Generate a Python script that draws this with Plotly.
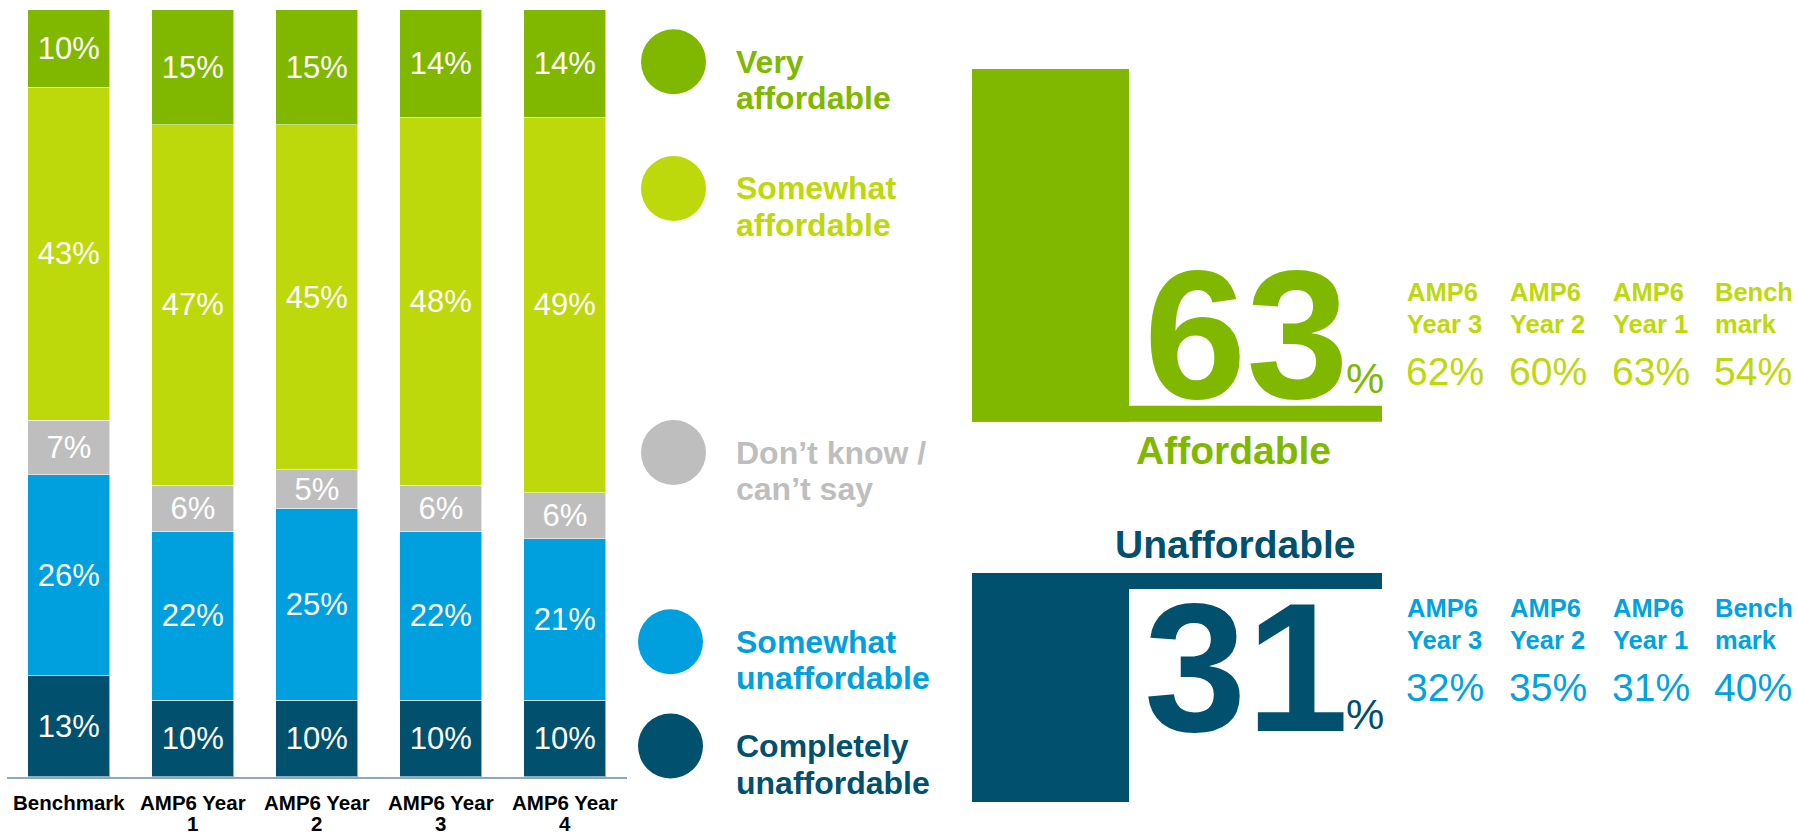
import plotly.graph_objects as go

# ---- survey data -------------------------------------------------------
periods = ["Benchmark", "AMP6 Year 1", "AMP6 Year 2", "AMP6 Year 3", "AMP6 Year 4"]
period_ticks = ["Benchmark", "AMP6 Year<br>1", "AMP6 Year<br>2", "AMP6 Year<br>3", "AMP6 Year<br>4"]

completely_unaffordable = [13, 10, 10, 10, 10]
somewhat_unaffordable = [26, 22, 25, 22, 21]
dont_know = [7, 6, 5, 6, 6]
somewhat_affordable = [43, 47, 45, 48, 49]
very_affordable = [10, 15, 15, 14, 14]

# net scores (rounded separately in the survey report)
current_affordable = 63
current_unaffordable = 31
comparison_labels = ["AMP6<br>Year 3", "AMP6<br>Year 2", "AMP6<br>Year 1", "Bench<br>mark"]
net_affordable = [62, 60, 63, 54]
net_unaffordable = [32, 35, 31, 40]

# ---- styling -----------------------------------------------------------
W, H = 1798, 835
FONT = "Arial, 'Liberation Sans', sans-serif"
C_VERY = "#80B800"
C_SOMEWHAT_AFF = "#BDD80B"
C_DK = "#BEBEBE"
C_SOMEWHAT_UN = "#00A0DF"
C_COMPLETELY = "#00506E"
C_NET_UN = "#00A3E0"

series = [
    ("Completely unaffordable", completely_unaffordable, C_COMPLETELY),
    ("Somewhat unaffordable", somewhat_unaffordable, C_SOMEWHAT_UN),
    ("Don't know / can't say", dont_know, C_DK),
    ("Somewhat affordable", somewhat_affordable, C_SOMEWHAT_AFF),
    ("Very affordable", very_affordable, C_VERY),
]


def px(x):
    return x / W


def py(y):
    return 1 - y / H


fig = go.Figure()
for name, vals, color in series:
    fig.add_trace(go.Bar(
        x=periods, y=vals, name=name,
        marker=dict(color=color, line=dict(color="rgba(255,255,255,0.55)", width=1)),
        text=[f"{v}%" for v in vals], texttemplate="%{text}",
        textposition="inside", insidetextanchor="middle", constraintext="none",
        textfont=dict(family=FONT, size=31, color="white"),
        hoverinfo="skip", showlegend=False,
    ))

shapes = []
annotations = []


def text(x, y, s, size, color, bold=False, xanchor="left", box_height=None):
    ann = dict(
        x=px(x), y=py(y), xref="paper", yref="paper", text=s, showarrow=False,
        xanchor=xanchor, yanchor="middle",
        font=dict(family=FONT, size=size, color=color, weight="bold" if bold else "normal"),
    )
    if box_height:
        # the huge figures only need a box as tall as their digits
        ann.update(height=box_height, valign="middle")
    annotations.append(ann)


def rect(x0, y0, x1, y1, color):
    shapes.append(dict(type="rect", xref="paper", yref="paper",
                       x0=px(x0), x1=px(x1), y0=py(y1), y1=py(y0),
                       fillcolor=color, line=dict(width=0), layer="above"))


# ---- category labels under the bars (tight two-line spacing) -----------
for period, tick in zip(periods, period_ticks):
    for k, line in enumerate(tick.split("<br>")):
        annotations.append(dict(
            x=period, xref="x", y=py(802 + 21 * k), yref="paper",
            text=line, showarrow=False, xanchor="center", yanchor="middle",
            font=dict(family=FONT, size=20.5, color="black", weight="bold"),
        ))

# ---- legend: circles with two-line labels ------------------------------
legend_items = [
    (673.5, 61.7, ["Very", "affordable"], C_VERY),
    (673.5, 188.5, ["Somewhat", "affordable"], C_SOMEWHAT_AFF),
    (673.5, 452.5, ["Don\u2019t know /", "can\u2019t say"], C_DK),
    (670.5, 641.7, ["Somewhat", "unaffordable"], C_SOMEWHAT_UN),
    (670.5, 746.0, ["Completely", "unaffordable"], C_COMPLETELY),
]
r = 32.5
for cx, cy, lines, color in legend_items:
    shapes.append(dict(type="circle", xref="paper", yref="paper",
                       x0=px(cx - r), x1=px(cx + r), y0=py(cy + r), y1=py(cy - r),
                       fillcolor=color, line=dict(width=0)))
    text(734, cy, lines[0], 32, color, bold=True)
    text(734, cy + 36.5, lines[1], 32, color, bold=True)

# ---- net affordable panel ----------------------------------------------
rect(972, 69, 1129, 421.7, C_VERY)
rect(972, 405.7, 1382, 421.7, C_VERY)
text(1246, 334, str(current_affordable), 184, C_VERY, bold=True, xanchor="center", box_height=150)
text(1365, 378, "%", 43, C_VERY, xanchor="center")
text(1233, 451, "Affordable", 39, C_VERY, bold=True, xanchor="center")

col_left = [1405, 1508, 1611, 1713]
for i, lab in enumerate(comparison_labels):
    l1, l2 = lab.split("<br>")
    text(col_left[i], 292, l1, 25.5, C_SOMEWHAT_AFF, bold=True)
    text(col_left[i], 324, l2, 25.5, C_SOMEWHAT_AFF, bold=True)
    text(col_left[i] - 1, 371.5, f"{net_affordable[i]}%", 39, C_SOMEWHAT_AFF)

# ---- net unaffordable panel --------------------------------------------
text(1235, 544, "Unaffordable", 39, C_COMPLETELY, bold=True, xanchor="center")
rect(972, 573, 1382, 589, C_COMPLETELY)
rect(972, 573, 1129, 802, C_COMPLETELY)
text(1246, 667, str(current_unaffordable), 184, C_COMPLETELY, bold=True, xanchor="center", box_height=150)
text(1365, 714, "%", 43, C_COMPLETELY, xanchor="center")

for i, lab in enumerate(comparison_labels):
    l1, l2 = lab.split("<br>")
    text(col_left[i], 608, l1, 25.5, C_NET_UN, bold=True)
    text(col_left[i], 640, l2, 25.5, C_NET_UN, bold=True)
    text(col_left[i] - 1, 687, f"{net_unaffordable[i]}%", 39, C_NET_UN)

# ---- layout ------------------------------------------------------------
x0_plot, x1_plot = 6.8, 626.8
y_base, y_top = 776.7, 9.7

fig.update_layout(
    width=W, height=H, autosize=False,
    margin=dict(l=0, r=0, t=0, b=0, autoexpand=False),
    paper_bgcolor="white", plot_bgcolor="white",
    barmode="stack", barnorm="percent", bargap=0.336,
    shapes=shapes, annotations=annotations,
    xaxis=dict(
        domain=[px(x0_plot), px(x1_plot)], automargin=False,
        categoryorder="array", categoryarray=periods,
        showticklabels=False,
        showline=True, linecolor="#8EA7C7", linewidth=2,
        showgrid=False, zeroline=False, ticks="",
        fixedrange=True,
    ),
    yaxis=dict(
        domain=[py(y_base), py(y_top)], range=[0, 100], automargin=False,
        visible=False, showgrid=False, zeroline=False, fixedrange=True,
    ),
)

fig.write_html("out.html")
